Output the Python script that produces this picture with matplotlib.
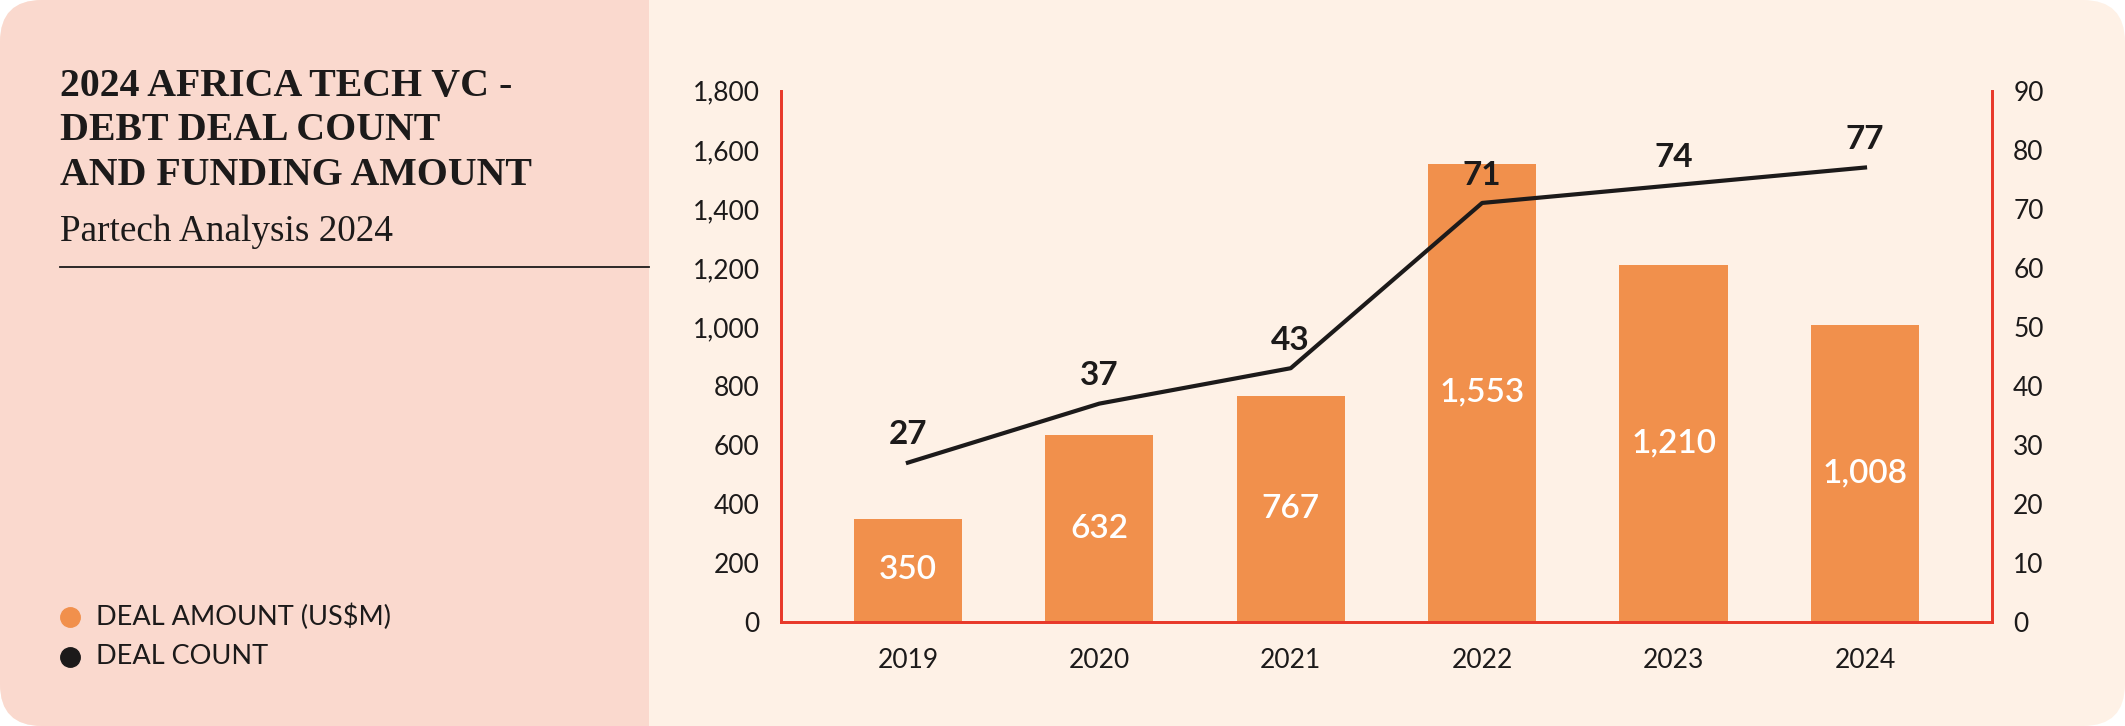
import matplotlib.pyplot as plt
from matplotlib.patches import FancyBboxPatch, Rectangle
from matplotlib.lines import Line2D
from matplotlib.ticker import FuncFormatter

years = ['2019', '2020', '2021', '2022', '2023', '2024']
deal_amount = [350, 632, 767, 1553, 1210, 1008]
deal_count = [27, 37, 43, 71, 74, 77]

ORANGE = '#F1904C'
DARK = '#1C1A1A'
RED = '#E8392A'
PINK = '#FAD9CE'
CREAM = '#FEF1E6'
SANS = 'Lato'
SERIF = 'Liberation Serif'

W, H, DPI = 21.25, 7.26, 100
fig = plt.figure(figsize=(W, H), dpi=DPI, facecolor='white')

# background panels (inches)
split = 649 / DPI
r = 0.42
fig.patches.append(FancyBboxPatch((0, 0), W, H, boxstyle=f'round,pad=0,rounding_size={r}',
                                  transform=fig.dpi_scale_trans, fc=CREAM, ec='none', zorder=0))
fig.patches.append(FancyBboxPatch((0, 0), split + 1, H, boxstyle=f'round,pad=0,rounding_size={r}',
                                  transform=fig.dpi_scale_trans, fc=PINK, ec='none', zorder=1))
fig.patches.append(Rectangle((split, 0), 1.2, H, transform=fig.dpi_scale_trans,
                             fc=CREAM, ec='none', zorder=2))

# title block
fig.text(60 / 2125, 1 - 131 / 726, '2024 AFRICA TECH VC -\nDEBT DEAL COUNT\nAND FUNDING AMOUNT',
         family=SERIF, weight='bold', fontsize=28.7, color=DARK, va='center', ha='left',
         linespacing=1.28, zorder=5)
fig.text(60 / 2125, 1 - 232 / 726, 'Partech Analysis 2024', family=SERIF, fontsize=26.8,
         color=DARK, va='center', ha='left', zorder=5)
fig.add_artist(Line2D([60 / 2125, split * DPI / 2125], [1 - 267 / 726, 1 - 267 / 726],
                      transform=fig.transFigure, color=DARK, lw=1.3, zorder=5))

# legend
for label, col, yy in [('DEAL AMOUNT (US$M)', ORANGE, 617), ('DEAL COUNT', DARK, 657)]:
    fig.add_artist(Line2D([70 / 2125], [1 - yy / 726], marker='o', markersize=14, color=col,
                          transform=fig.transFigure, zorder=5))
    fig.text(96 / 2125, 1 - yy / 726, label, family=SANS, fontsize=19.5, color=DARK,
             va='center', ha='left', zorder=5)

# chart
ax = fig.add_axes([780.6 / 2125, 1 - 622 / 726, (1992.3 - 780.6) / 2125, (622 - 90.8) / 726], zorder=6)
ax.set_facecolor('none')
x = list(range(len(years)))
bars = ax.bar(x, deal_amount, width=0.566, color=ORANGE, zorder=2)
ax.set_ylim(0, 1800)
ax.set_xlim(-0.665, 5.665)
ax.set_yticks(range(0, 1801, 200))
ax.yaxis.set_major_formatter(FuncFormatter(lambda v, p: f'{int(v):,}'))
ax.set_xticks(x)
ax.set_xticklabels(years)

for b, v in zip(bars, deal_amount):
    ax.text(b.get_x() + b.get_width() / 2, v / 2, f'{v:,}', ha='center', va='center',
            color='white', fontsize=24, family=SANS, weight='semibold', zorder=3)

ax2 = ax.twinx()
ax2.set_ylim(0, 90)
ax2.set_yticks(range(0, 91, 10))
ax2.plot(x, deal_count, color=DARK, lw=3, zorder=4)
for xi, c in zip(x, deal_count):
    ax2.annotate(str(c), (xi, c), xytext=(0, 20), textcoords='offset points', ha='center',
                 va='center', fontsize=24, weight='bold', family=SANS, color=DARK)

for a in (ax, ax2):
    a.spines['top'].set_visible(False)
    for s in ('left', 'right', 'bottom'):
        a.spines[s].set_color(RED)
        a.spines[s].set_linewidth(2)
    a.tick_params(length=0, labelsize=19, colors=DARK)
    for t in a.get_yticklabels() + a.get_xticklabels():
        t.set_family(SANS)
ax.tick_params(axis='y', pad=15)
ax.tick_params(axis='x', pad=19)
ax2.tick_params(axis='y', pad=15)

fig.savefig('out.png', dpi=DPI, facecolor='white')
